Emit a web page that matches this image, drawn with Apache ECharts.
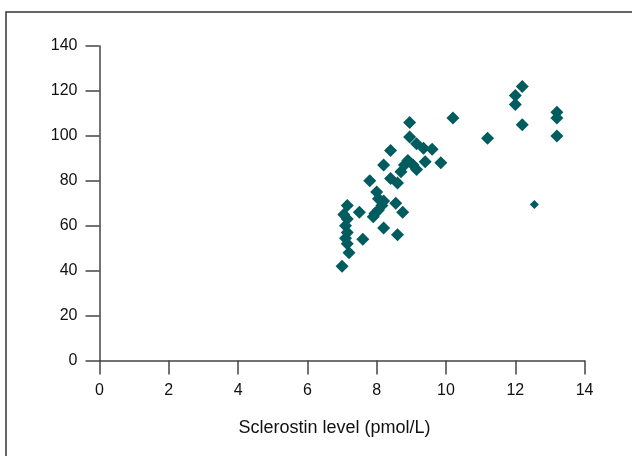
<!DOCTYPE html>
<html>
<head>
<meta charset="utf-8">
<script src="https://cdn.jsdelivr.net/npm/echarts@6/dist/echarts.min.js"></script>
<style>
  html, body { margin: 0; padding: 0; background: #fff; }
  #chart { width: 632px; height: 456px; }
</style>
</head>
<body>
<div id="chart"></div>
<script>
// sclerostin (pmol/L) vs y value
const sclerostin = [7.0, 7.2, 7.15, 7.1, 7.15, 7.1, 7.15, 7.05, 7.15,
  7.5, 7.6,
  7.8, 7.9, 7.95, 8.05, 8.15, 8.05, 8.0, 8.2, 8.2,
  8.2, 8.4, 8.4, 8.6, 8.55, 8.6, 8.75,
  8.7, 8.8, 8.9, 9.05, 9.15, 8.95, 8.95, 9.15, 9.35, 9.6, 9.4, 9.85,
  10.2, 11.2, 12.0, 12.0, 12.2, 12.2, 13.2, 13.2, 13.2]
const values = [42, 48, 52, 54.5, 57, 60, 63, 65, 69,
  66, 54,
  80, 64, 65.5, 67, 69, 72, 75, 71, 59,
  87, 93.5, 81, 79, 70, 56, 66,
  84, 87, 89, 87, 85, 106, 99.5, 96.5, 94.5, 94, 88.5, 88,
  108, 99, 118, 114, 122, 105, 110.5, 108, 100]
// one smaller marker
const smallX = [12.55]
const smallY = [69.5]

const xTicks = { min: 0, max: 14, interval: 2 }
const yTicks = { min: 0, max: 140, interval: 20 }

const font = "'Liberation Sans', Arial, sans-serif"
const teal = '#005c5e'

const chart = echarts.init(document.getElementById('chart'))
const axisCommon = {
  axisLine: { show: true, lineStyle: { color: '#444', width: 1.5 } },
  axisTick: { show: true, inside: false, length: 14, lineStyle: { color: '#444', width: 1.5 } },
  splitLine: { show: false },
  axisLabel: { color: '#111', fontSize: 16, fontFamily: font }
}

const option = {
  animation: false,
  backgroundColor: '#fff',
  grid: { left: 99.5, top: 46, right: 47.4, bottom: 95.4 },
  graphic: [{
    type: 'rect',
    shape: { x: 6, y: 12, width: 700, height: 520 },
    style: { fill: 'none', stroke: '#333', lineWidth: 1.5 },
    silent: true
  }],
  xAxis: Object.assign({}, axisCommon, {
    type: 'value',
    min: xTicks.min, max: xTicks.max, interval: xTicks.interval,
    name: 'Sclerostin level (pmol/L)',
    nameLocation: 'middle',
    nameGap: 58,
    nameTextStyle: { color: '#111', fontSize: 18, fontFamily: font, padding: [0, 15, 0, 0] },
    axisLabel: Object.assign({}, axisCommon.axisLabel, { margin: 22 })
  }),
  yAxis: Object.assign({}, axisCommon, {
    type: 'value',
    min: yTicks.min, max: yTicks.max, interval: yTicks.interval,
    axisLabel: Object.assign({}, axisCommon.axisLabel, { margin: 22 })
  }),
  series: [
    {
      type: 'scatter',
      symbol: 'diamond',
      symbolSize: 13,
      itemStyle: { color: teal, opacity: 1 },
      data: sclerostin.map((x, i) => [x, values[i]])
    },
    {
      type: 'scatter',
      symbol: 'diamond',
      symbolSize: 9,
      itemStyle: { color: teal, opacity: 1 },
      data: smallX.map((x, i) => [x, smallY[i]])
    }
  ]
}
chart.setOption(option)
window.addEventListener('resize', () => {
  chart.resize()
})
</script>
</body>
</html>
